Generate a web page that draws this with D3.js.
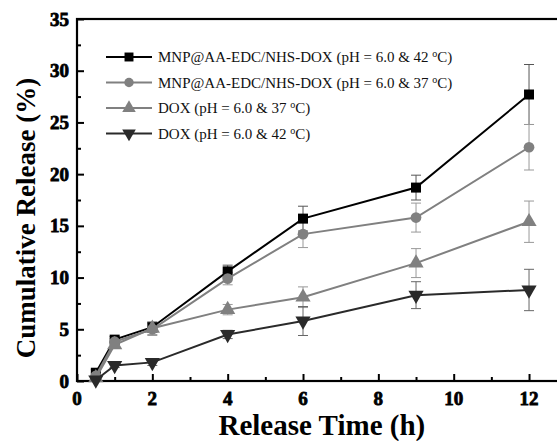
<!DOCTYPE html>
<html>
<head>
<meta charset="utf-8">
<script src="https://cdn.jsdelivr.net/npm/d3@7"></script>
<style>
  body { margin: 0; background: #fff; }
  svg { display: block; }
</style>
</head>
<body>
<div id="chart"></div>
<script>
// release time points (h)
const times = [0.5, 1, 2, 4, 6, 9, 12];

// cumulative release (%) for each formulation
const mnp42 = [0.8, 4.0, 5.2, 10.6, 15.7, 18.7, 27.7];
const mnp37 = [0.5, 3.8, 5.0, 9.9, 14.2, 15.8, 22.6];
const dox37 = [0.3, 3.5, 5.1, 6.9, 8.1, 11.4, 15.4];
const dox42 = [0.1, 1.5, 1.8, 4.5, 5.8, 8.3, 8.8];

// error bars (+/-)
const mnp42Err = [0.3, 0.3, 0.5, 0.6, 1.2, 1.2, 2.9];
const mnp37Err = [0.3, 0.3, 0.6, 0.6, 1.3, 1.4, 2.2];
const dox37Err = [0.2, 0.3, 0.6, 0.5, 1.0, 1.4, 2.0];
const dox42Err = [0.1, 0.2, 0.3, 0.4, 1.4, 1.3, 2.0];

const legendLabels = [
  "MNP@AA-EDC/NHS-DOX (pH = 6.0 & 42 ",
  "MNP@AA-EDC/NHS-DOX (pH = 6.0 & 37 ",
  "DOX (pH = 6.0 & 37 ",
  "DOX (pH = 6.0 & 42 "
];

const xTicks = ["0", "2", "4", "6", "8", "10", "12"];
const yTicks = ["0", "5", "10", "15", "20", "25", "30", "35"];

const series = [
  { name: legendLabels[0], values: mnp42, err: mnp42Err, color: "#000", errColor: "#555", symbol: d3.symbolSquare, rot: 0 },
  { name: legendLabels[1], values: mnp37, err: mnp37Err, color: "#808080", errColor: "#999", symbol: d3.symbolCircle, rot: 0 },
  { name: legendLabels[2], values: dox37, err: dox37Err, color: "#808080", errColor: "#999", symbol: d3.symbolTriangle, rot: 0 },
  { name: legendLabels[3], values: dox42, err: dox42Err, color: "#2a2a2a", errColor: "#666", symbol: d3.symbolTriangle, rot: 180 }
];

const width = 557, height = 441;
const margin = { top: 19, left: 77, bottom: 60 };

const svg = d3.select("#chart").append("svg")
  .attr("width", width)
  .attr("height", height);

const x = d3.scaleLinear().domain([0, 13]).range([margin.left, 566.7]);
const y = d3.scaleLinear().domain([0, 35]).range([381, margin.top]);

const serif = "Liberation Serif";

// plot frame
svg.append("rect")
  .attr("x", x(0)).attr("y", y(35))
  .attr("width", x(13) - x(0)).attr("height", y(0) - y(35))
  .attr("fill", "none").attr("stroke", "#000").attr("stroke-width", 2.2);

// axes with inward ticks (labels drawn separately below)
const xAxis = svg.append("g")
  .attr("transform", `translate(0,${y(0)})`)
  .call(d3.axisBottom(x).tickValues(xTicks.map(Number)).tickSize(-7).tickFormat(""));
const xMinor = svg.append("g")
  .attr("transform", `translate(0,${y(0)})`)
  .call(d3.axisBottom(x).tickValues(d3.range(1, 13, 2)).tickSize(-4).tickFormat(""));
const yAxis = svg.append("g")
  .attr("transform", `translate(${x(0)},0)`)
  .call(d3.axisLeft(y).tickValues(yTicks.map(Number)).tickSize(-7).tickFormat(""));
const yMinor = svg.append("g")
  .attr("transform", `translate(${x(0)},0)`)
  .call(d3.axisLeft(y).tickValues(d3.range(2.5, 35, 5)).tickSize(-4).tickFormat(""));

[xAxis, xMinor, yAxis, yMinor].forEach(g => {
  g.select(".domain").remove();
  g.selectAll("text").remove();
  g.selectAll("line").attr("stroke", "#000").attr("stroke-width", 2);
});

svg.selectAll(".xlab")
  .data(xTicks)
  .enter().append("text")
  .attr("x", d => x(+d))
  .attr("y", 405)
  .attr("text-anchor", "middle")
  .attr("font-family", serif).attr("font-weight", "bold").attr("font-size", 19)
  .attr("stroke", "#000").attr("stroke-width", 0.8)
  .text(d => d);

svg.selectAll(".ylab")
  .data(yTicks)
  .enter().append("text")
  .attr("x", 69)
  .attr("y", d => y(+d) + 6.5)
  .attr("text-anchor", "end")
  .attr("font-family", serif).attr("font-weight", "bold").attr("font-size", 19)
  .attr("stroke", "#000").attr("stroke-width", 0.8)
  .text(d => d);

// axis titles
svg.append("text")
  .attr("x", x(6.5)).attr("y", 435)
  .attr("text-anchor", "middle")
  .attr("font-family", serif).attr("font-weight", "bold").attr("font-size", 29)
  .text("Release Time (h)");

svg.append("text")
  .attr("transform", `translate(35,218) rotate(-90)`)
  .attr("text-anchor", "middle")
  .attr("font-family", serif).attr("font-weight", "bold").attr("font-size", 27)
  .text("Cumulative Release (%)");

const line = d3.line()
  .x((d, i) => x(times[i]))
  .y(d => y(d));

// error bars first so lines and markers sit on top
series.forEach(s => {
  const g = svg.append("g");
  const cap = 5;
  s.values.forEach((v, i) => {
    const cx = x(times[i]);
    const top = y(v + s.err[i]), bot = y(v - s.err[i]);
    g.append("line").attr("x1", cx).attr("x2", cx).attr("y1", top).attr("y2", bot)
      .attr("stroke", s.errColor).attr("stroke-width", 1);
    [top, bot].forEach(yy => g.append("line")
      .attr("x1", cx - cap).attr("x2", cx + cap).attr("y1", yy).attr("y2", yy)
      .attr("stroke", s.errColor).attr("stroke-width", 1));
  });
});

series.forEach(s => {
  svg.append("path")
    .datum(s.values)
    .attr("d", line)
    .attr("fill", "none")
    .attr("stroke", s.color)
    .attr("stroke-width", 2);

  svg.selectAll(null)
    .data(s.values)
    .enter()
    .append("path")
    .attr("d", d3.symbol().type(s.symbol).size(s.symbol === d3.symbolCircle ? 90 : 100))
    .attr("transform", (d, i) => `translate(${x(times[i])},${y(d)}) rotate(${s.rot})`)
    .attr("fill", s.color);
});

// legend
const legend = svg.append("g");
series.forEach((s, i) => {
  const ly = 57 + i * 25.5;
  legend.append("line")
    .attr("x1", 106).attr("x2", 152).attr("y1", ly).attr("y2", ly)
    .attr("stroke", s.color).attr("stroke-width", 2);
  legend.append("path")
    .attr("d", d3.symbol().type(s.symbol).size(s.symbol === d3.symbolCircle ? 70 : 80))
    .attr("transform", `translate(129,${ly}) rotate(${s.rot})`)
    .attr("fill", s.color);
  const t = legend.append("text")
    .attr("x", 158).attr("y", ly + 5)
    .attr("font-family", serif)
    .attr("font-size", 15)
    .attr("fill", "#111");
  t.append("tspan").text(s.name);
  t.append("tspan").attr("font-size", 10).attr("dy", -5).text("o");
  t.append("tspan").attr("dy", 5).text("C)");
});
</script>
</body>
</html>
